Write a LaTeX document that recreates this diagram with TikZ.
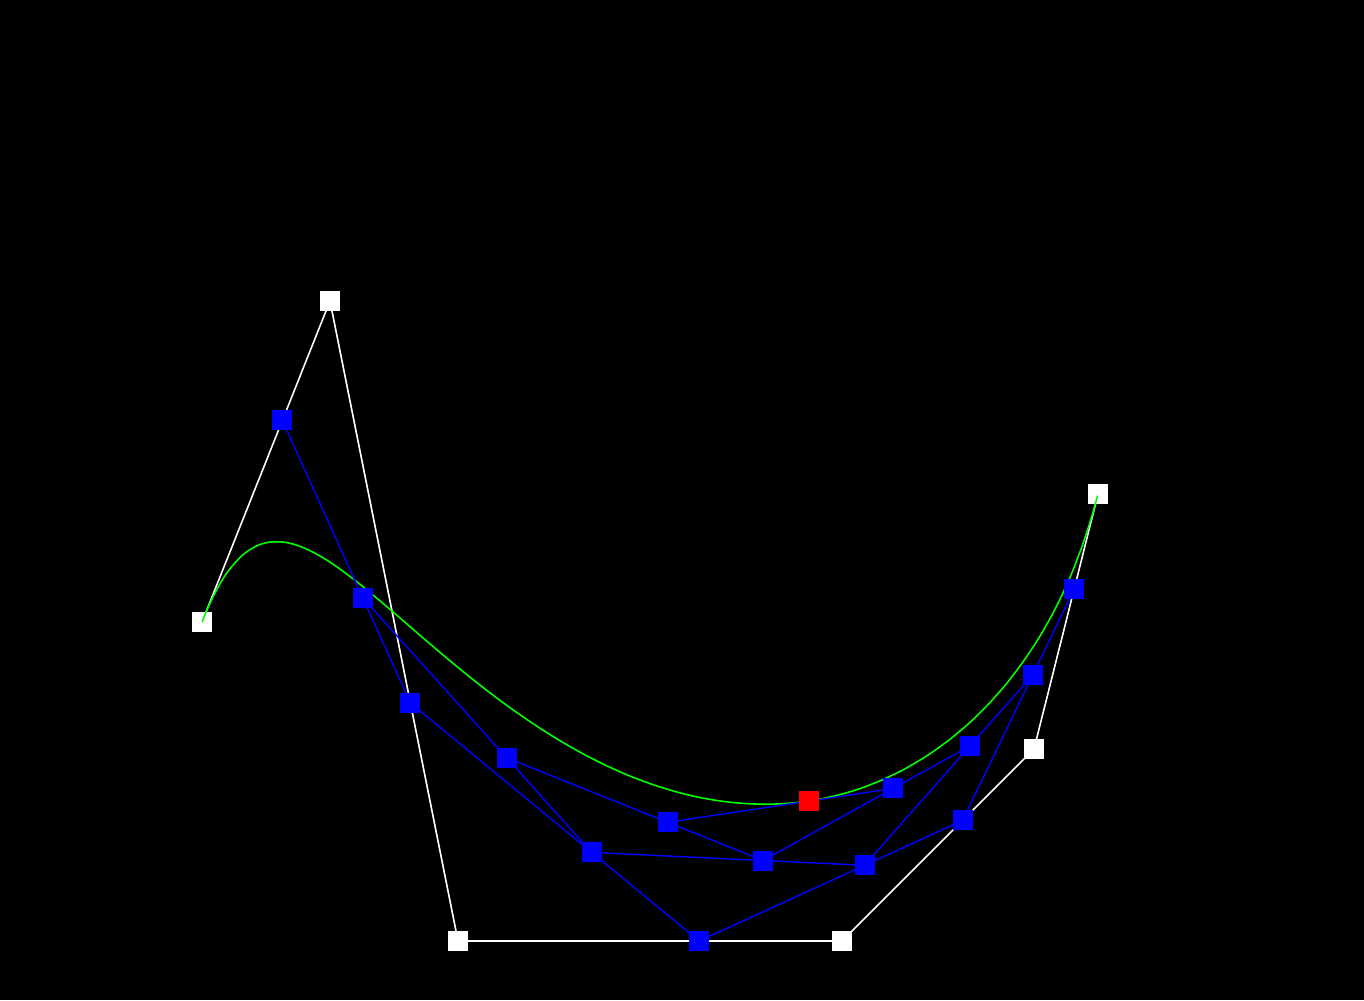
\documentclass[tikz,border=0pt]{standalone}
\usetikzlibrary{calc}

\tikzset{
  ctrlbox/.style={draw=none, fill=white, minimum size=0.4cm, inner sep=0pt},
  midbox/.style={draw=none, fill=blue, minimum size=0.4cm, inner sep=0pt},
  hitbox/.style={draw=none, fill=red, minimum size=0.4cm, inner sep=0pt},
  hull/.style={white, line width=0.9pt},
  level/.style={blue, line width=0.8pt},
  curve/.style={green, line width=0.9pt}
}
\newcommand{\tpar}{0.628}

\begin{document}
\begin{tikzpicture}[x=0.02cm, y=-0.02cm]

  % background
  \fill[black] (0,0) rectangle (1364,1000);
  \useasboundingbox (0,0) rectangle (1364,1000);

  % control points
  \coordinate (p0) at (202,622);
  \coordinate (p1) at (330,301);
  \coordinate (p2) at (458,941);
  \coordinate (p3) at (842,941);
  \coordinate (p4) at (1034,749);
  \coordinate (p5) at (1098,494);

  % de Casteljau levels
  \coordinate (a0) at ($(p0)!\tpar!(p1)$);
  \coordinate (a1) at ($(p1)!\tpar!(p2)$);
  \coordinate (a2) at ($(p2)!\tpar!(p3)$);
  \coordinate (a3) at ($(p3)!\tpar!(p4)$);
  \coordinate (a4) at ($(p4)!\tpar!(p5)$);

  \coordinate (b0) at ($(a0)!\tpar!(a1)$);
  \coordinate (b1) at ($(a1)!\tpar!(a2)$);
  \coordinate (b2) at ($(a2)!\tpar!(a3)$);
  \coordinate (b3) at ($(a3)!\tpar!(a4)$);

  \coordinate (c0) at ($(b0)!\tpar!(b1)$);
  \coordinate (c1) at ($(b1)!\tpar!(b2)$);
  \coordinate (c2) at ($(b2)!\tpar!(b3)$);

  \coordinate (d0) at ($(c0)!\tpar!(c1)$);
  \coordinate (d1) at ($(c1)!\tpar!(c2)$);

  \coordinate (e0) at ($(d0)!\tpar!(d1)$);

  % control polygon
  \draw[hull] (p0) -- (p1) -- (p2) -- (p3) -- (p4) -- (p5);
  \foreach \p in {p0,p1,p2,p3,p4,p5}
    \node[ctrlbox] (\p box) at (\p) {};

  % the curve
  \draw[curve] plot[domain=0:1, samples=120, smooth] (
    {(1-\x)^5*202 + 5*(1-\x)^4*\x*330 + 10*(1-\x)^3*\x^2*458
     + 10*(1-\x)^2*\x^3*842 + 5*(1-\x)*\x^4*1034 + \x^5*1098},
    {(1-\x)^5*622 + 5*(1-\x)^4*\x*301 + 10*(1-\x)^3*\x^2*941
     + 10*(1-\x)^2*\x^3*941 + 5*(1-\x)*\x^4*749 + \x^5*494});

  % intermediate polygons
  \draw[level] (a0) -- (a1) -- (a2) -- (a3) -- (a4);
  \draw[level] (b0) -- (b1) -- (b2) -- (b3);
  \draw[level] (c0) -- (c1) -- (c2);
  \draw[level] (d0) -- (d1);
  \foreach \p in {a0,a1,a2,a3,a4,b0,b1,b2,b3,c0,c1,c2,d0,d1}
    \node[midbox] (\p box) at (\p) {};

  % point on the curve
  \node[hitbox] (e0box) at (e0) {};

\end{tikzpicture}
\end{document}
